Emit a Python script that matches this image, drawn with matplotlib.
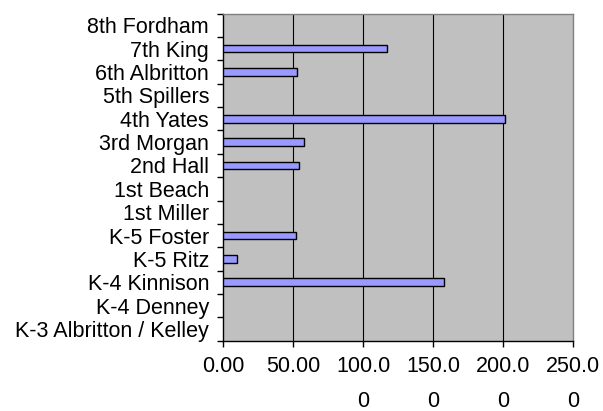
import matplotlib
matplotlib.use("Agg")
import matplotlib.pyplot as plt
import numpy as np

categories = ["K-3 Albritton / Kelley", "K-4 Denney", "K-4 Kinnison", "K-5 Ritz",
              "K-5 Foster", "1st Miller", "1st Beach", "2nd Hall", "3rd Morgan",
              "4th Yates", "5th Spillers", "6th Albritton", "7th King", "8th Fordham"]
values = [0, 0, 157.5, 9.9, 51.6, 0, 0, 54.2, 57.4, 201.6, 0, 52.8, 117.2, 0]
xticks = [0, 50, 100, 150, 200, 250]
xticklabels = ["0.00", "50.00", "100.0\n0", "150.0\n0", "200.0\n0", "250.0\n0"]

plt.rcParams['font.family'] = ['Liberation Sans', 'DejaVu Sans']

fig = plt.figure(figsize=(6.03, 4.11), dpi=100)
ax = fig.add_axes([0.3706, 0.171, 0.950 - 0.3706, 0.967 - 0.171])
ax.set_facecolor('#C0C0C0')

y = np.arange(len(categories))
lws = [1.0 if v > 0 else 0 for v in values]
ax.barh(y, values, height=0.33, color='#9999FF', edgecolor='black', linewidth=lws, zorder=3)

ax.set_xlim(0, 250)
ax.set_ylim(-0.5, len(categories) - 0.5)
ax.set_xticks(xticks)
ax.set_xticklabels(xticklabels, fontsize=15.5, linespacing=1.85, multialignment='center')
for v in xticks[1:-1]:
    ax.axvline(v, color='black', linewidth=0.8, zorder=1)

ax.set_yticks(y)
ax.set_yticklabels(categories, fontsize=15.5)
ax.set_yticks(np.arange(-0.5, len(categories), 1), minor=True)
ax.tick_params(axis='y', which='major', length=0, pad=10.4)
ax.tick_params(axis='y', which='minor', length=4, width=1, color='black', direction='out')
ax.tick_params(axis='x', which='major', length=4, width=1, color='black', direction='out', pad=7)

for s in ['top', 'right']:
    ax.spines[s].set_color('#808080')
    ax.spines[s].set_linewidth(1)
for s in ['left', 'bottom']:
    ax.spines[s].set_color('black')
    ax.spines[s].set_linewidth(1)

fig.savefig('out.png', dpi=100)
